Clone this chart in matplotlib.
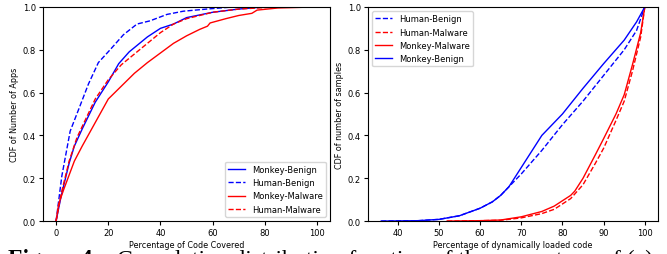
import numpy as np
import matplotlib
matplotlib.use("Agg")
import matplotlib.pyplot as plt

# (a) code coverage CDF
cov_mb_x = [0, 2, 5, 7, 10, 15, 20, 24, 28, 32, 35, 40, 45, 50, 60, 70, 80, 100]
cov_mb_y = [0, 0.12, 0.27, 0.35, 0.43, 0.555, 0.65, 0.735, 0.79, 0.83, 0.86, 0.90, 0.92, 0.95, 0.975, 0.99, 1.0, 1.0]

cov_hb_x = [0, 2.2, 5.4, 8.6, 12.4, 16.2, 20.7, 25.8, 31, 36, 42.5, 48.8, 57.8, 68, 100]
cov_hb_y = [0, 0.21, 0.42, 0.52, 0.64, 0.74, 0.80, 0.87, 0.92, 0.935, 0.965, 0.98, 0.99, 1.0, 1.0]

cov_mm_x = [0, 1, 3, 7, 10, 15, 20, 25, 30, 35, 40, 45, 50, 55, 58, 59, 65, 70, 75, 77, 85, 100]
cov_mm_y = [0, 0.08, 0.15, 0.28, 0.35, 0.46, 0.57, 0.63, 0.69, 0.74, 0.785, 0.83, 0.865, 0.895, 0.91, 0.925, 0.945, 0.96, 0.97, 0.985, 0.995, 1.0]

cov_hm_x = [0, 2, 5, 8, 15, 20, 25, 30, 35, 40, 45, 50, 60, 70, 85, 100]
cov_hm_y = [0, 0.13, 0.28, 0.39, 0.57, 0.66, 0.73, 0.78, 0.83, 0.88, 0.92, 0.945, 0.975, 0.99, 1.0, 1.0]

# (b) dynamically loaded code CDF
dyn_hb_x = [36, 45, 50, 55, 60, 63, 65, 70, 75, 80, 85, 90, 95, 98, 100]
dyn_hb_y = [0, 0.002, 0.008, 0.025, 0.06, 0.09, 0.12, 0.22, 0.33, 0.45, 0.56, 0.68, 0.80, 0.89, 1.0]

dyn_hm_x = [52, 60, 65, 70, 75, 78, 80, 82, 85, 88, 90, 93, 95, 97, 99, 100]
dyn_hm_y = [0, 0.002, 0.004, 0.015, 0.035, 0.055, 0.08, 0.105, 0.17, 0.27, 0.34, 0.47, 0.56, 0.70, 0.86, 1.0]

dyn_mm_x = [52, 60, 65, 70, 75, 78, 80, 82, 83, 85, 88, 90, 93, 95, 97, 99, 100]
dyn_mm_y = [0, 0.002, 0.005, 0.02, 0.045, 0.07, 0.095, 0.12, 0.14, 0.20, 0.31, 0.385, 0.50, 0.59, 0.73, 0.88, 1.0]

dyn_mb_x = [36, 45, 50, 55, 60, 63, 65, 67, 70, 75, 80, 85, 90, 95, 98, 100]
dyn_mb_y = [0, 0.002, 0.008, 0.025, 0.06, 0.09, 0.12, 0.16, 0.25, 0.40, 0.50, 0.62, 0.735, 0.845, 0.93, 1.0]

caption_bold = "Figure 4:"
caption_rest = "Cumulative distribution function of the percentage of (a)"

fig = plt.figure(figsize=(6.67, 2.55), dpi=100)
ax1 = fig.add_axes([0.0645, 0.129, 0.4305, 0.84])
ax2 = fig.add_axes([0.5517, 0.129, 0.4348, 0.84])

lw = 1.0
ax1.plot(cov_mb_x, cov_mb_y, 'b-', lw=lw, label='Monkey-Benign')
ax1.plot(cov_hb_x, cov_hb_y, 'b--', lw=lw, label='Human-Benign')
ax1.plot(cov_mm_x, cov_mm_y, 'r-', lw=lw, label='Monkey-Malware')
ax1.plot(cov_hm_x, cov_hm_y, 'r--', lw=lw, label='Human-Malware')
ax1.set_ylim(0, 1)
ax1.set_xlabel('Percentage of Code Covered', fontsize=5.8, labelpad=2)
ax1.set_ylabel('CDF of Number of Apps', fontsize=5.8, labelpad=3)
ax1.legend(loc='lower right', fontsize=6)

ax2.plot(dyn_hb_x, dyn_hb_y, 'b--', lw=lw, label='Human-Benign')
ax2.plot(dyn_hm_x, dyn_hm_y, 'r--', lw=lw, label='Human-Malware')
ax2.plot(dyn_mm_x, dyn_mm_y, 'r-', lw=lw, label='Monkey-Malware')
ax2.plot(dyn_mb_x, dyn_mb_y, 'b-', lw=lw, label='Monkey-Benign')
ax2.set_ylim(0, 1)
ax2.set_xlabel('Percentage of dynamically loaded code', fontsize=5.8, labelpad=2)
ax2.set_ylabel('CDF of number of samples', fontsize=5.8, labelpad=3)
ax2.legend(loc='upper left', fontsize=6)

for ax in (ax1, ax2):
    ax.tick_params(labelsize=6, length=3, pad=2)

# caption of the paper, cut off at the bottom edge
fig.text(0.012, 0.022, caption_bold, fontsize=17, fontweight='bold',
         family='Liberation Serif', va='top')
fig.text(0.175, 0.022, caption_rest, fontsize=17,
         family='Liberation Serif', va='top')

fig.savefig('out.png', dpi=100)
